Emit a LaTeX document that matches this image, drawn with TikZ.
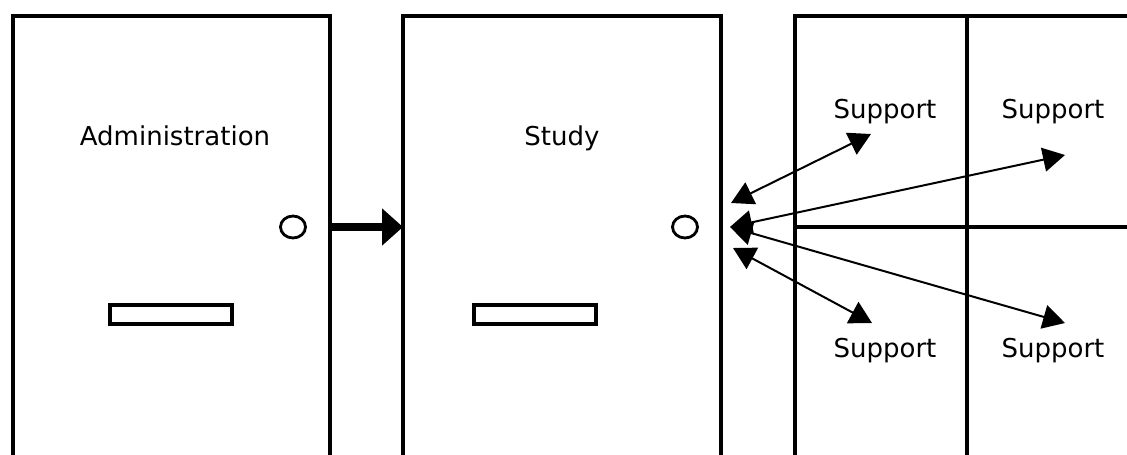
\documentclass[tikz,border=0pt]{standalone}
\usepackage{fontspec}
\setmainfont{DejaVu Sans}
\usetikzlibrary{arrows.meta,shapes.geometric}
\begin{document}
\begin{tikzpicture}[x=1pt,y=-1pt,
  wall/.style={line width=4.5pt},
  handle/.style={draw,line width=2.8pt,ellipse,minimum width=25pt,minimum height=22pt,inner sep=0pt},
  slotbox/.style={draw,line width=4pt,rectangle,minimum width=122pt,minimum height=19pt,inner sep=0pt},
  lbl/.style={font=\fontsize{26}{30}\selectfont,anchor=base,inner sep=0pt},
  link/.style={line width=2pt,{Triangle[length=22pt,width=24pt]}-{Triangle[length=22pt,width=24pt]}},
  bigarrow/.style={line width=8pt,-{Triangle[length=21pt,width=36pt]}}]
\useasboundingbox (0,0) rectangle (1127,455);
\clip (0,0) rectangle (1127,455);
% doors
\draw[wall] (13,470) -- (13,16) -- (330,16) -- (330,470);
\draw[wall] (403,470) -- (403,16) -- (721,16) -- (721,470);
% support panel
\draw[wall] (795,470) -- (795,16) -- (1140,16);
\draw[wall] (967,16) -- (967,470);
\draw[wall] (795,227) -- (1140,227);
% handles and slots
\node[handle] (h1) at (293,227) {};
\node[handle] (h2) at (685,227) {};
\node[slotbox] (s1) at (170.5,314) {};
\node[slotbox] (s2) at (535,314) {};
% labels
\node[lbl] (adm) at (175,145) {Administration};
\node[lbl] (stu) at (562,145) {Study};
\node[lbl] (sp1) at (885,118) {Support};
\node[lbl] (sp2) at (1053,118) {Support};
\node[lbl] (sp3) at (885,357) {Support};
\node[lbl] (sp4) at (1053,357) {Support};
% arrow ends
\coordinate (a0) at (332,227);
\coordinate (a1) at (403,227);
\coordinate (c) at (730,227);
\coordinate (u1) at (731,203);
\coordinate (u2) at (871,134);
\coordinate (d1) at (733,248);
\coordinate (d2) at (872,323);
\coordinate (r1) at (1065,155);
\coordinate (r2) at (1065,323);
% connectors
\draw[bigarrow] (a0) -- (a1);
\draw[link] (u1) -- (u2);
\draw[link] (d1) -- (d2);
\draw[link] (c) -- (r1);
\draw[link] (c) -- (r2);
\end{tikzpicture}
\end{document}
